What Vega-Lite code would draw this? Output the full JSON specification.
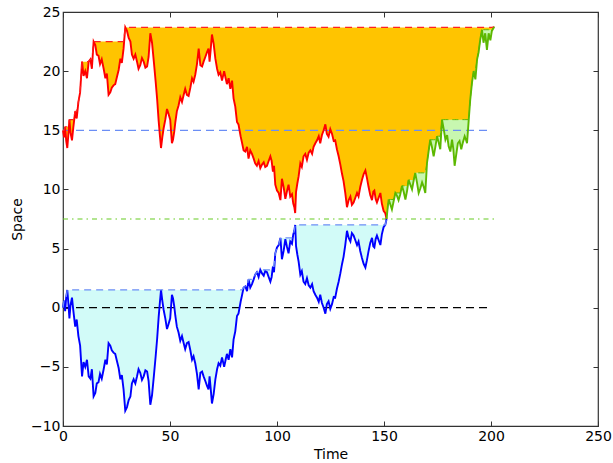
{
"$schema": "https://vega.github.io/schema/vega-lite/v6.json",
"width": 535, "height": 414,
"autosize": {"type": "none"},
"padding": {"left": 63, "top": 12, "right": 15, "bottom": 37},
"config": {"view": {"stroke": "#333", "strokeWidth": 1.2}, "font": "DejaVu Sans",
  "axis": {"grid": false, "domain": false, "labelFontSize": 14, "titleFontSize": 14, "labelColor": "#000", "titleColor": "#000", "tickColor": "#333", "titleFontWeight": "normal", "labelFlush": false, "labelOverlap": false, "tickSize": -5, "tickWidth": 1}},
"datasets": {"walk": [
{"t":0,"b":0,"p":15},{"t":0.5,"b":0.6,"p":14.4},{"t":1.0,"b":-0.3,"p":15.3},{"t":1.5,"b":0.9,"p":14.1},{"t":2.0,"b":1.5,"p":13.5},{"t":2.5,"b":0.4,"p":14.6},{"t":3.0,"b":-0.9,"p":15.9},{"t":3.5,"b":0.2,"p":14.8},{"t":4.2,"b":0.85,"p":14.15},{"t":4.8,"b":-0.2,"p":15.2},
{"t":5.7,"b":-1.6,"p":16.6},{"t":6.4,"b":-1.0,"p":16.0},{"t":7.2,"b":-2.4,"p":17.4},{"t":8.0,"b":-3.2,"p":18.2},{"t":8.9,"b":-5.8,"p":20.8},{"t":9.6,"b":-4.6,"p":19.6},{"t":10.4,"b":-5.0,"p":20.0},{"t":11.2,"b":-4.4,"p":19.4},{"t":12.0,"b":-5.8,"p":20.8},{"t":12.8,"b":-6.0,"p":21.0},
{"t":13.5,"b":-5.2,"p":20.2},{"t":14.3,"b":-7.5,"p":22.5},{"t":15.1,"b":-7.2,"p":22.2},{"t":15.8,"b":-6.4,"p":21.4},{"t":16.6,"b":-6.3,"p":21.3},{"t":17.3,"b":-5.6,"p":20.6},{"t":18.1,"b":-6.0,"p":21.0},{"t":19.0,"b":-5.2,"p":20.2},{"t":19.8,"b":-4.4,"p":19.4},{"t":20.5,"b":-4.8,"p":19.8},
{"t":21.3,"b":-3.0,"p":18.0},{"t":22.1,"b":-3.2,"p":18.2},{"t":22.8,"b":-3.6,"p":18.6},{"t":23.6,"b":-3.8,"p":18.8},{"t":24.4,"b":-3.9,"p":18.9},{"t":25.2,"b":-4.5,"p":19.5},{"t":26.0,"b":-5.1,"p":20.1},{"t":26.8,"b":-6.05,"p":21.05},{"t":27.5,"b":-5.7,"p":20.7},{"t":28.3,"b":-6.9,"p":21.9},
{"t":29.1,"b":-8.7,"p":23.7},{"t":29.9,"b":-8.4,"p":23.4},{"t":30.7,"b":-7.8,"p":22.8},{"t":31.5,"b":-7.5,"p":22.5},{"t":32.2,"b":-6.4,"p":21.4},{"t":33.0,"b":-6.05,"p":21.05},{"t":33.8,"b":-6.4,"p":21.4},{"t":34.6,"b":-5.8,"p":20.8},{"t":35.3,"b":-5.2,"p":20.2},{"t":36.1,"b":-5.5,"p":20.5},
{"t":36.9,"b":-6.1,"p":21.1},{"t":37.7,"b":-5.8,"p":20.8},{"t":38.5,"b":-5.3,"p":20.3},{"t":39.3,"b":-5.4,"p":20.4},{"t":40.0,"b":-6.2,"p":21.2},{"t":40.8,"b":-8.2,"p":23.2},{"t":41.6,"b":-7.4,"p":22.4},{"t":42.5,"b":-5.7,"p":20.7},{"t":43.3,"b":-4.1,"p":19.1},{"t":44.0,"b":-2.6,"p":17.6},
{"t":44.7,"b":-0.8,"p":15.8},{"t":45.3,"b":0.5,"p":14.5},{"t":45.8,"b":1.5,"p":13.5},{"t":46.4,"b":0.6,"p":14.4},{"t":47.0,"b":-0.15,"p":15.15},{"t":47.8,"b":-0.9,"p":15.9},{"t":48.6,"b":-1.8,"p":16.8},{"t":49.3,"b":-1.4,"p":16.4},{"t":50.1,"b":-0.9,"p":15.9},{"t":50.9,"b":1.1,"p":13.9},
{"t":51.4,"b":0.8,"p":14.2},{"t":52.0,"b":0.1,"p":14.9},{"t":52.5,"b":-0.7,"p":15.7},{"t":53.2,"b":-1.6,"p":16.6},{"t":54.0,"b":-2.1,"p":17.1},{"t":54.8,"b":-2.8,"p":17.8},{"t":55.6,"b":-2.4,"p":17.4},{"t":56.4,"b":-3.0,"p":18.0},{"t":57.1,"b":-3.5,"p":18.5},{"t":57.9,"b":-3.0,"p":18.0},
{"t":58.7,"b":-2.9,"p":17.9},{"t":59.5,"b":-3.6,"p":18.6},{"t":60.3,"b":-4.4,"p":19.4},{"t":61.0,"b":-4.1,"p":19.1},{"t":61.8,"b":-4.7,"p":19.7},{"t":62.6,"b":-5.6,"p":20.6},{"t":63.4,"b":-6.9,"p":21.9},{"t":64.2,"b":-5.5,"p":20.5},{"t":65.0,"b":-5.4,"p":20.4},{"t":65.7,"b":-5.8,"p":20.8},
{"t":66.5,"b":-6.2,"p":21.2},{"t":67.3,"b":-6.6,"p":21.6},{"t":68.0,"b":-6.9,"p":21.9},{"t":68.5,"b":-5.8,"p":20.8},{"t":69.0,"b":-6.8,"p":21.8},{"t":69.6,"b":-8.1,"p":23.1},{"t":70.4,"b":-7.3,"p":22.3},{"t":71.2,"b":-6.05,"p":21.05},{"t":72.0,"b":-5.2,"p":20.2},{"t":72.7,"b":-4.7,"p":19.7},
{"t":73.5,"b":-4.9,"p":19.9},{"t":74.3,"b":-4.2,"p":19.2},{"t":75.3,"b":-5.0,"p":20.0},{"t":76.0,"b":-4.4,"p":19.4},{"t":76.6,"b":-3.9,"p":18.9},{"t":77.4,"b":-4.4,"p":19.4},{"t":78.2,"b":-3.5,"p":18.5},{"t":79.0,"b":-4.2,"p":19.2},{"t":79.7,"b":-2.7,"p":17.7},{"t":80.5,"b":-2.0,"p":17.0},
{"t":81.3,"b":-0.7,"p":15.7},{"t":82.0,"b":-0.5,"p":15.5},{"t":82.5,"b":0.0,"p":15.0},{"t":83.0,"b":0.5,"p":14.5},{"t":83.6,"b":1.0,"p":14.0},{"t":84.4,"b":1.7,"p":13.3},{"t":85.2,"b":1.8,"p":13.2},{"t":86.0,"b":1.4,"p":13.6},{"t":86.7,"b":2.4,"p":12.6},{"t":87.5,"b":1.7,"p":13.3},
{"t":88.3,"b":2.0,"p":13.0},{"t":89.1,"b":2.4,"p":12.6},{"t":89.8,"b":2.8,"p":12.2},{"t":90.6,"b":3.0,"p":12.0},{"t":91.4,"b":2.6,"p":12.4},{"t":92.2,"b":3.2,"p":11.8},{"t":93.0,"b":2.9,"p":12.1},{"t":93.8,"b":2.7,"p":12.3},{"t":94.5,"b":3.1,"p":11.9},{"t":95.3,"b":3.0,"p":12.0},
{"t":96.1,"b":2.6,"p":12.4},{"t":96.9,"b":2.2,"p":12.8},{"t":97.5,"b":2.6,"p":12.4},{"t":98.1,"b":3.5,"p":11.5},{"t":98.6,"b":3.0,"p":12.0},{"t":99.2,"b":4.6,"p":10.4},{"t":100.0,"b":5.1,"p":9.9},{"t":100.8,"b":5.3,"p":9.7},{"t":101.6,"b":5.9,"p":9.1},{"t":102.3,"b":4.1,"p":10.9},
{"t":103.1,"b":4.8,"p":10.2},{"t":103.9,"b":5.8,"p":9.2},{"t":104.6,"b":5.2,"p":9.8},{"t":105.4,"b":4.6,"p":10.4},{"t":106.2,"b":5.6,"p":9.4},{"t":107.0,"b":5.4,"p":9.6},{"t":107.6,"b":6.2,"p":8.8},{"t":108.1,"b":6.5,"p":8.5},{"t":108.5,"b":7.0,"p":8.0},{"t":108.9,"b":5.2,"p":9.8},
{"t":109.5,"b":4.5,"p":10.5},{"t":110.1,"b":3.9,"p":11.1},{"t":110.9,"b":2.8,"p":12.2},{"t":111.6,"b":3.1,"p":11.9},{"t":112.4,"b":2.2,"p":12.8},{"t":113.2,"b":2.0,"p":13.0},{"t":114.0,"b":2.5,"p":12.5},{"t":114.8,"b":1.9,"p":13.1},{"t":115.6,"b":1.7,"p":13.3},{"t":116.4,"b":2.0,"p":13.0},
{"t":117.1,"b":1.4,"p":13.6},{"t":117.9,"b":1.1,"p":13.9},{"t":118.7,"b":0.85,"p":14.15},{"t":119.5,"b":0.5,"p":14.5},{"t":120.2,"b":1.1,"p":13.9},{"t":121.0,"b":0.4,"p":14.6},{"t":121.8,"b":0.0,"p":15.0},{"t":122.6,"b":-0.5,"p":15.5},{"t":123.3,"b":0.3,"p":14.7},{"t":124.1,"b":0.55,"p":14.45},
{"t":124.9,"b":-0.1,"p":15.1},{"t":125.7,"b":0.3,"p":14.7},{"t":126.5,"b":0.9,"p":14.1},{"t":127.2,"b":0.85,"p":14.15},{"t":128.0,"b":1.6,"p":13.4},{"t":128.8,"b":2.2,"p":12.8},{"t":129.6,"b":2.9,"p":12.1},{"t":130.4,"b":3.7,"p":11.3},{"t":131.1,"b":4.3,"p":10.7},{"t":131.9,"b":5.3,"p":9.7},
{"t":132.7,"b":6.5,"p":8.5},{"t":133.5,"b":5.9,"p":9.1},{"t":134.3,"b":5.6,"p":9.4},{"t":135.0,"b":6.3,"p":8.7},{"t":135.8,"b":6.1,"p":8.9},{"t":136.6,"b":5.7,"p":9.3},{"t":137.4,"b":5.3,"p":9.7},{"t":138.1,"b":5.6,"p":9.4},{"t":138.9,"b":4.8,"p":10.2},{"t":139.7,"b":4.2,"p":10.8},
{"t":140.5,"b":3.7,"p":11.3},{"t":141.3,"b":3.4,"p":11.6},{"t":142.0,"b":4.0,"p":11.0},{"t":142.8,"b":4.8,"p":10.2},{"t":143.6,"b":5.5,"p":9.5},{"t":144.4,"b":5.9,"p":9.1},{"t":145.0,"b":5.2,"p":9.8},{"t":145.5,"b":5.1,"p":9.9},{"t":146.1,"b":5.8,"p":9.2},{"t":146.7,"b":6.1,"p":8.9},
{"t":147.5,"b":5.7,"p":9.3},{"t":148.3,"b":5.3,"p":9.7},{"t":149.0,"b":6.2,"p":8.8},{"t":149.8,"b":6.8,"p":8.2},{"t":150.6,"b":7.0,"p":8.0},{"t":151.2,"b":7.5,"p":7.5},
{"t":151.8,"p":8.6},{"t":152.2,"p":9.15},{"t":153.0,"p":8.7},{"t":153.7,"p":8.3},{"t":154.5,"p":9.0},{"t":155.3,"p":9.7},{"t":156.0,"p":9.5},{"t":156.8,"p":9.1},{"t":157.6,"p":9.6},{"t":158.4,"p":10.3},
{"t":159.2,"p":9.8},{"t":160.0,"p":9.15},{"t":160.8,"p":9.9},{"t":161.5,"p":10.8},{"t":162.3,"p":10.4},{"t":163.1,"p":10.0},{"t":163.9,"p":10.8},{"t":164.6,"p":11.4},{"t":165.4,"p":10.6},{"t":166.2,"p":9.7},
{"t":167.0,"p":10.1},{"t":167.8,"p":10.6},{"t":168.6,"p":10.2},{"t":169.3,"p":9.7},{"t":170.1,"p":12.25},{"t":170.9,"p":13.3},{"t":171.6,"p":14.2},{"t":172.4,"p":13.6},{"t":173.2,"p":12.8},{"t":174.0,"p":13.6},
{"t":174.8,"p":14.5},{"t":175.5,"p":14.0},{"t":176.3,"p":13.4},{"t":177.1,"p":15.9},{"t":177.9,"p":15.1},{"t":178.7,"p":14.2},{"t":179.5,"p":14.6},{"t":180.2,"p":13.65},{"t":181.0,"p":13.2},{"t":181.8,"p":14.2},
{"t":182.4,"p":13.4},{"t":183.0,"p":12.0},{"t":183.8,"p":13.0},{"t":184.5,"p":13.9},{"t":185.3,"p":14.1},{"t":186.1,"p":13.4},{"t":186.9,"p":14.0},{"t":187.7,"p":14.5},{"t":188.3,"p":14.2},{"t":188.8,"p":13.9},
{"t":189.6,"p":15.9},{"t":190.3,"p":17.6},{"t":191.1,"p":19.0},{"t":191.9,"p":20.0},{"t":192.7,"p":19.3},{"t":193.5,"p":21.0},{"t":194.2,"p":21.6},{"t":195.0,"p":22.7},{"t":195.8,"p":23.5},{"t":196.5,"p":22.4},
{"t":197.3,"p":23.2},{"t":198.1,"p":21.8},{"t":198.9,"p":23.2},{"t":199.7,"p":22.6},{"t":200.4,"p":23.4},{"t":201.5,"p":23.75}
]},
"resolve": {"axis": {"x": "independent", "y": "independent"}},
"layer": [
{"data": {"name": "walk"},
 "transform": [{"window": [{"op": "max", "field": "p", "as": "pmax"}], "sort": [{"field": "t"}], "frame": [null, 0]}],
 "mark": {"type": "area", "color": "#ffc400"},
 "encoding": {
  "x": {"field": "t", "type": "quantitative", "scale": {"domain": [0, 250], "nice": false, "zero": false},
        "axis": {"orient": "bottom", "title": "Time", "values": [0, 50, 100, 150, 200, 250], "labelPadding": 8, "titlePadding": 4}},
  "y": {"field": "p", "type": "quantitative", "scale": {"domain": [-10, 25], "nice": false, "zero": false},
        "axis": {"orient": "left", "title": "Space", "values": [-10, -5, 0, 5, 10, 15, 20, 25], "labelPadding": 8, "titlePadding": 6}},
  "y2": {"field": "pmax"}}},
{"data": {"name": "walk"},
 "transform": [{"filter": "datum.t >= 151.2"}, {"window": [{"op": "max", "field": "p", "as": "gmax"}], "sort": [{"field": "t"}], "frame": [null, 0]}],
 "mark": {"type": "area", "color": "#c8f7b0"},
 "encoding": {
  "x": {"field": "t", "type": "quantitative", "scale": {"domain": [0, 250], "nice": false, "zero": false}, "axis": null},
  "y": {"field": "p", "type": "quantitative", "scale": {"domain": [-10, 25], "nice": false, "zero": false}, "axis": null},
  "y2": {"field": "gmax"}}},
{"data": {"name": "walk"},
 "transform": [{"filter": "isValid(datum.b)"}, {"window": [{"op": "max", "field": "b", "as": "bmax"}], "sort": [{"field": "t"}], "frame": [null, 0]}],
 "mark": {"type": "area", "color": "#d2fbf8"},
 "encoding": {
  "x": {"field": "t", "type": "quantitative", "scale": {"domain": [0, 250], "nice": false, "zero": false}, "axis": null},
  "y": {"field": "b", "type": "quantitative", "scale": {"domain": [-10, 25], "nice": false, "zero": false}, "axis": null},
  "y2": {"field": "bmax"}}},
{"data": {"values": [{"x0": 0, "x1": 200, "y": 0}]},
 "mark": {"type": "rule", "color": "#000", "strokeDash": [8, 5], "strokeWidth": 1.2},
 "encoding": {
  "x": {"field": "x0", "type": "quantitative", "scale": {"domain": [0, 250], "nice": false, "zero": false},
        "axis": {"orient": "top", "title": null, "labels": false, "values": [0, 50, 100, 150, 200, 250]}},
  "x2": {"field": "x1"},
  "y": {"field": "y", "type": "quantitative", "scale": {"domain": [-10, 25], "nice": false, "zero": false},
        "axis": {"orient": "right", "title": null, "labels": false, "values": [-10, -5, 0, 5, 10, 15, 20, 25]}}}},
{"data": {"values": [{"x0": 0, "x1": 200, "y": 15}]},
 "mark": {"type": "rule", "color": "#6b8ef5", "strokeDash": [8, 5], "strokeWidth": 1.2},
 "encoding": {
  "x": {"field": "x0", "type": "quantitative", "scale": {"domain": [0, 250], "nice": false, "zero": false}, "axis": null},
  "x2": {"field": "x1"},
  "y": {"field": "y", "type": "quantitative", "scale": {"domain": [-10, 25], "nice": false, "zero": false}, "axis": null}}},
{"data": {"values": [{"x0": 0, "x1": 201.5, "y": 7.5}]},
 "mark": {"type": "rule", "color": "#66cc22", "strokeDash": [5, 4, 1.5, 4], "strokeWidth": 1.2},
 "encoding": {
  "x": {"field": "x0", "type": "quantitative", "scale": {"domain": [0, 250], "nice": false, "zero": false}, "axis": null},
  "x2": {"field": "x1"},
  "y": {"field": "y", "type": "quantitative", "scale": {"domain": [-10, 25], "nice": false, "zero": false}, "axis": null}}},
{"data": {"name": "walk"},
 "transform": [{"filter": "isValid(datum.b)"}],
 "mark": {"type": "line", "color": "#0000ff", "strokeWidth": 1.9},
 "encoding": {
  "x": {"field": "t", "type": "quantitative", "scale": {"domain": [0, 250], "nice": false, "zero": false}, "axis": null},
  "y": {"field": "b", "type": "quantitative", "scale": {"domain": [-10, 25], "nice": false, "zero": false}, "axis": null}}},
{"data": {"name": "walk"},
 "transform": [{"filter": "datum.t <= 151.2"}],
 "mark": {"type": "line", "color": "#ff0000", "strokeWidth": 1.9},
 "encoding": {
  "x": {"field": "t", "type": "quantitative", "scale": {"domain": [0, 250], "nice": false, "zero": false}, "axis": null},
  "y": {"field": "p", "type": "quantitative", "scale": {"domain": [-10, 25], "nice": false, "zero": false}, "axis": null}}},
{"data": {"name": "walk"},
 "transform": [{"filter": "datum.t >= 151.2"}],
 "mark": {"type": "line", "color": "#5cb800", "strokeWidth": 1.9},
 "encoding": {
  "x": {"field": "t", "type": "quantitative", "scale": {"domain": [0, 250], "nice": false, "zero": false}, "axis": null},
  "y": {"field": "p", "type": "quantitative", "scale": {"domain": [-10, 25], "nice": false, "zero": false}, "axis": null}}},
{"data": {"name": "walk"},
 "transform": [{"window": [{"op": "max", "field": "p", "as": "pmax"}], "sort": [{"field": "t"}], "frame": [null, 0]}],
 "mark": {"type": "line", "color": "#ff2020", "strokeWidth": 1.2, "strokeDash": [7, 5]},
 "encoding": {
  "x": {"field": "t", "type": "quantitative", "scale": {"domain": [0, 250], "nice": false, "zero": false}, "axis": null},
  "y": {"field": "pmax", "type": "quantitative", "scale": {"domain": [-10, 25], "nice": false, "zero": false}, "axis": null}}},
{"data": {"name": "walk"},
 "transform": [{"filter": "isValid(datum.b)"}, {"window": [{"op": "max", "field": "b", "as": "bmax"}], "sort": [{"field": "t"}], "frame": [null, 0]}],
 "mark": {"type": "line", "color": "#6b8ef5", "strokeWidth": 1.2, "strokeDash": [7, 5]},
 "encoding": {
  "x": {"field": "t", "type": "quantitative", "scale": {"domain": [0, 250], "nice": false, "zero": false}, "axis": null},
  "y": {"field": "bmax", "type": "quantitative", "scale": {"domain": [-10, 25], "nice": false, "zero": false}, "axis": null}}},
{"data": {"name": "walk"},
 "transform": [{"filter": "datum.t >= 151.2"}, {"window": [{"op": "max", "field": "p", "as": "gmax"}], "sort": [{"field": "t"}], "frame": [null, 0]}],
 "mark": {"type": "line", "color": "#5cb800", "strokeWidth": 1, "strokeDash": [6, 4]},
 "encoding": {
  "x": {"field": "t", "type": "quantitative", "scale": {"domain": [0, 250], "nice": false, "zero": false}, "axis": null},
  "y": {"field": "gmax", "type": "quantitative", "scale": {"domain": [-10, 25], "nice": false, "zero": false}, "axis": null}}}
]
}
